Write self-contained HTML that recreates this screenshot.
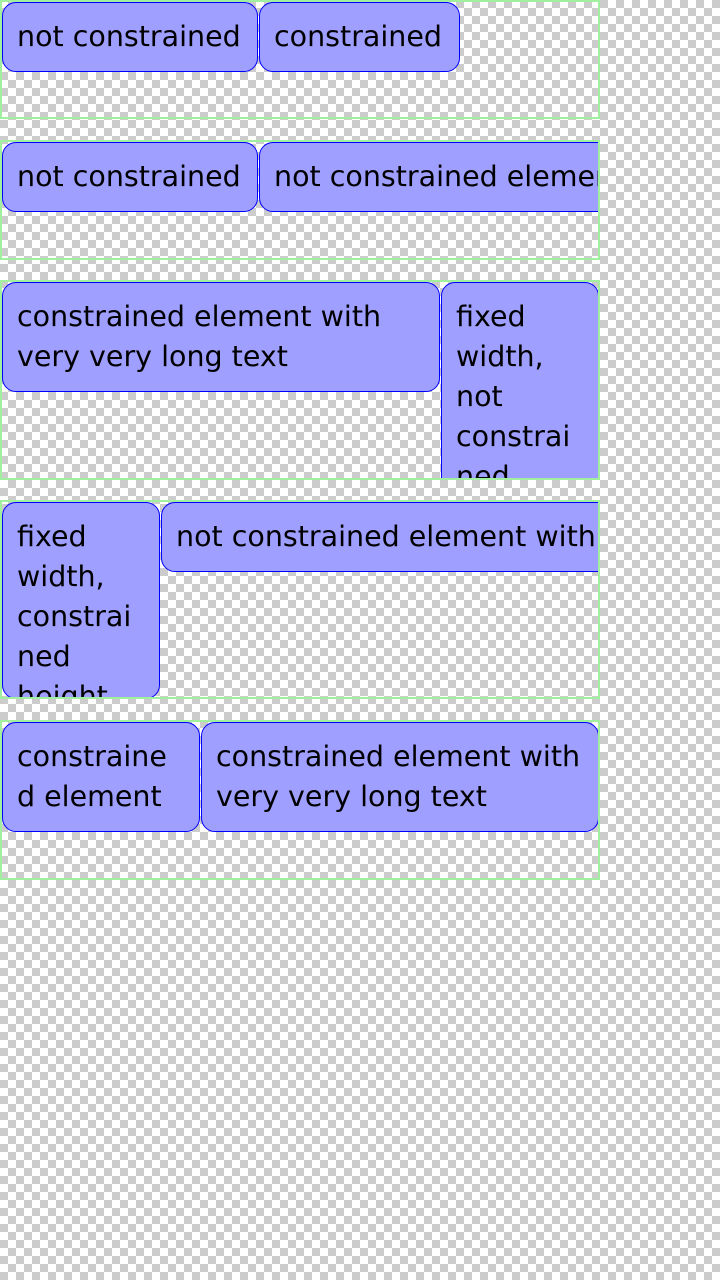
<!DOCTYPE html>
<html><head><meta charset="utf-8"><style>
html,body{margin:0;padding:0;width:720px;height:1280px;overflow:hidden;
background-color:#fff;
background-image:linear-gradient(45deg,#ccc 25%,transparent 25%,transparent 75%,#ccc 75%),linear-gradient(45deg,#ccc 25%,transparent 25%,transparent 75%,#ccc 75%);
background-size:16px 16px;background-position:0 0,8px 8px;
font-family:"DejaVu Sans","Liberation Sans",sans-serif;}
.c{position:absolute;left:0;width:596px;border:2px solid #a0f0a0;overflow:hidden;}
.b{position:absolute;box-sizing:border-box;background:#9f9fff;border:1.5px solid #0000ff;border-radius:14px;padding:14px 14px;font-size:28.5px;line-height:40px;color:#000;overflow:hidden;white-space:normal;overflow-wrap:anywhere;}
.n{white-space:nowrap;}
</style></head><body>
<div class="c" style="top:0;height:115px">
 <div class="b n" style="left:0;top:0;width:256px;height:70px">not constrained</div>
 <div class="b n" style="left:257px;top:0;width:201px;height:70px">constrained</div>
</div>
<div class="c" style="top:140px;height:116px">
 <div class="b n" style="left:0;top:0;width:256px;height:70px">not constrained</div>
 <div class="b n" style="left:257px;top:0;width:420px;height:70px">not constrained element with very very long text</div>
</div>
<div class="c" style="top:280px;height:196px">
 <div class="b" style="left:0;top:0;width:438px;height:110px">constrained element with very very long text</div>
 <div class="b" style="left:439px;top:0;width:158px;height:260px">fixed width, not constrained height</div>
</div>
<div class="c" style="top:500px;height:195px">
 <div class="b" style="left:0;top:0;width:158px;height:197px">fixed width, constrained height</div>
 <div class="b n" style="left:159px;top:0;width:760px;height:70px">not constrained element with very very long text</div>
</div>
<div class="c" style="top:720px;height:156px">
 <div class="b n" style="left:0;top:0;width:198px;height:110px">constraine<br>d element</div>
 <div class="b" style="left:199px;top:0;width:398px;height:110px">constrained element with very very long text</div>
</div>
</body></html>
